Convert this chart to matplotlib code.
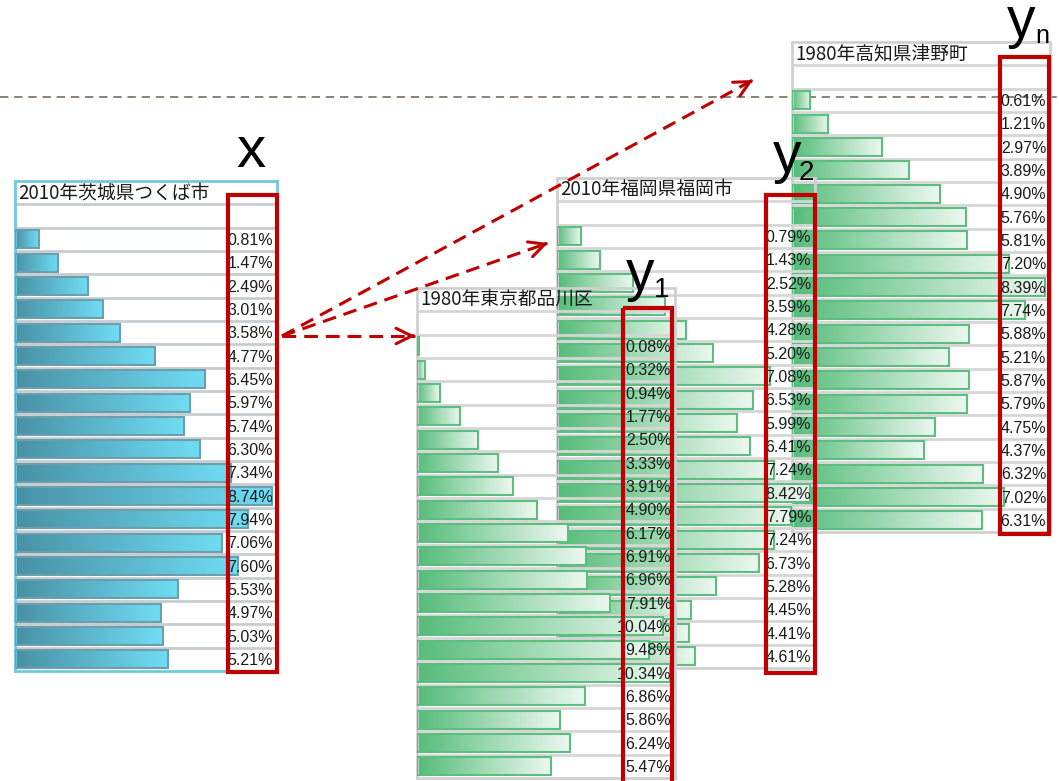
import numpy as np
import matplotlib.pyplot as plt
from matplotlib.colors import LinearSegmentedColormap
from matplotlib.patches import Rectangle

plt.rcParams['font.family'] = ['Noto Sans CJK JP', 'DejaVu Sans']

W, H = 1059, 781

# data
tsukuba_title = "2010年茨城県つくば市"
tsukuba = [0.81, 1.47, 2.49, 3.01, 3.58, 4.77, 6.45, 5.97, 5.74, 6.30,
           7.34, 8.74, 7.94, 7.06, 7.60, 5.53, 4.97, 5.03, 5.21]

shinagawa_title = "1980年東京都品川区"
shinagawa = [0.08, 0.32, 0.94, 1.77, 2.50, 3.33, 3.91, 4.90, 6.17, 6.91,
             6.96, 7.91, 10.04, 9.48, 10.34, 6.86, 5.86, 6.24, 5.47]

fukuoka_title = "2010年福岡県福岡市"
fukuoka = [0.79, 1.43, 2.52, 3.59, 4.28, 5.20, 7.08, 6.53, 5.99, 6.41,
           7.24, 8.42, 7.79, 7.24, 6.73, 5.28, 4.45, 4.41, 4.61]

kochi_title = "1980年高知県津野町"
kochi = [0.61, 1.21, 2.97, 3.89, 4.90, 5.76, 5.81, 7.20, 8.39, 7.74,
         5.88, 5.21, 5.87, 5.79, 4.75, 4.37, 6.32, 7.02, 6.31]

RED = '#c00000'
teal = LinearSegmentedColormap.from_list('teal', ['#4891a5', '#70ddf4'])
green = LinearSegmentedColormap.from_list('green', ['#55bc79', '#edf8f0'])

fig = plt.figure(figsize=(W / 100, H / 100), dpi=100)


def px_axes(left, top, width, height, z):
    return fig.add_axes([left / W, 1 - (top + height) / H, width / W, height / H], zorder=z)


def full_axes(z):
    ax = px_axes(0, 0, W, H, z)
    ax.set_xlim(0, W)
    ax.set_ylim(H, 0)
    ax.axis('off')
    ax.patch.set_alpha(0)
    return ax


def panel(ax, title, values, cmap, edge, line_col, border_col):
    n = len(values)
    xmax = max(values) * 1.02
    ax.patch.set_alpha(0)
    ax.set_xticks([])
    ax.set_yticks([])
    for s in ax.spines.values():
        s.set_color(border_col)
        s.set_linewidth(2)
    for k in range(-2, n - 1):
        ax.axhline(k + 0.5, color=line_col, lw=2, zorder=1)

    bars = ax.barh(range(n), values, height=0.78, facecolor='none',
                   edgecolor=edge, lw=1.5, zorder=3)
    grad = np.linspace(0, 1, 256).reshape(1, -1)
    for b in bars:
        x0, y0 = b.get_x(), b.get_y()
        ax.imshow(grad, cmap=cmap, aspect='auto', zorder=2,
                  extent=(x0, x0 + b.get_width(), y0 + b.get_height(), y0))

    ax.set_xlim(0, xmax)
    ax.set_ylim(n - 0.5, -2.5)

    tr = ax.get_yaxis_transform()
    for i, v in enumerate(values):
        ax.text(0.985, i + 0.05, f'{v:.2f}%', transform=tr, ha='right', va='center',
                fontsize=11.5, family='Liberation Sans', color='#1a1a1a', zorder=4)
    ax.text(0.012, -2, title, transform=tr, ha='left', va='center',
            fontsize=13.5, color='#1a1a1a', zorder=4)


# background: dashed level line
bg = full_axes(0)
bg.axhline(97, color='#7a6c5e', lw=1.2, linestyle=(0, (5, 3.5)))

# panels (later ones drawn on top)
ax_k = px_axes(792, 42, 258, 490, 1)
panel(ax_k, kochi_title, kochi, green, '#5cbf80', '#d6d6d6', '#d0d0d0')

ax_f = px_axes(557, 178, 258, 490, 2)
panel(ax_f, fukuoka_title, fukuoka, green, '#5cbf80', '#d6d6d6', '#d0d0d0')

ax_s = px_axes(417, 288, 258, 490, 3)
panel(ax_s, shinagawa_title, shinagawa, green, '#5cbf80', '#d6d6d6', '#d0d0d0')

ax_t = px_axes(15, 181, 262, 490, 3)
panel(ax_t, tsukuba_title, tsukuba, teal, '#6c9fae', '#c6cdd1', '#72c9de')

# overlay: red boxes, labels and arrows
top = full_axes(10)
for x0, y0, y1 in [(228, 195, 672), (623, 308, 800), (766, 195, 673), (1000, 57, 534)]:
    top.add_patch(Rectangle((x0, y0), 49, y1 - y0, fill=False, ec=RED, lw=3))

lab = dict(family='Liberation Sans', color='black')
top.text(251, 167, 'x', ha='center', va='baseline', fontsize=42, **lab)
for (xm, ym, sub, xs, ys, fs) in [(626, 290, '1', 654, 297, 20),
                                   (773, 172, '2', 799, 180, 20),
                                   (1007, 37, 'n', 1035, 43, 18)]:
    top.text(xm, ym, 'y', ha='left', va='baseline', fontsize=41, **lab)
    top.text(xs, ys, sub, ha='left', va='baseline', fontsize=fs, **lab)

start = np.array([282, 336])
for end in [np.array([415, 336]), np.array([548, 243]), np.array([753, 80])]:
    top.plot([start[0], end[0]], [start[1], end[1]], color=RED, lw=2.2,
             linestyle=(0, (4.5, 2.6)))
    d = (end - start) / np.hypot(*(end - start))
    top.annotate('', xy=tuple(end), xytext=tuple(end - 2 * d),
                 arrowprops=dict(arrowstyle='->', color=RED, lw=2.2,
                                 mutation_scale=28, shrinkA=0, shrinkB=0))

fig.savefig('out.png', dpi=100)
